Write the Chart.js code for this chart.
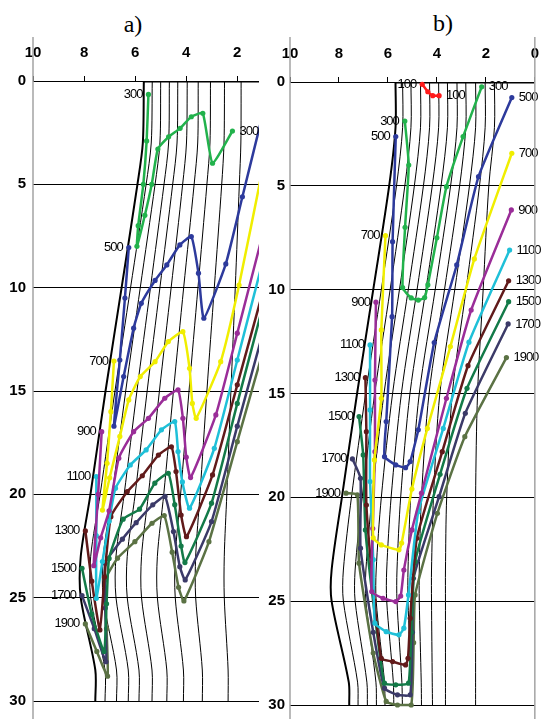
<!DOCTYPE html>
<html>
<head>
<meta charset="utf-8">
<script src="https://cdn.jsdelivr.net/npm/chart.js@4.4.1/dist/chart.umd.min.js"></script>
<style>
body { margin: 0; background: #fff; width: 553px; height: 719px; overflow: hidden; position: relative; }
canvas { position: absolute; top: 0; }
#ca { left: 0; }
#cb { left: 263px; }
.ttl { position: absolute; font: 24px "Liberation Serif", "Times New Roman", serif; transform: translate(-50%, -50%); }
</style>
</head>
<body>
<div class="ttl" style="left:133px;top:24px">a)</div>
<div class="ttl" style="left:443px;top:23px">b)</div>
<canvas id="ca" width="263" height="719"></canvas>
<canvas id="cb" width="290" height="719"></canvas>
<script>
// tick values
const xTicks = [10, 8, 6, 4, 2, 0]
const yTicks = [0, 5, 10, 15, 20, 25, 30]

// mesh lines, panel a (x at each depth in meshYa)
const meshYa = [0, 3, 5, 10, 15, 20, 23, 25, 28.5, 30]
const meshA = [
    [5.66, 5.70, 5.91, 6.53, 7.16, 7.75, 8.13, 8.13, 7.56, 7.56],
    [5.33, 5.37, 5.57, 6.18, 6.79, 7.37, 7.74, 7.74, 7.18, 7.18],
    [5.00, 5.03, 5.22, 5.80, 6.37, 6.90, 7.25, 7.25, 6.73, 6.73],
    [4.66, 4.69, 4.87, 5.40, 5.93, 6.43, 6.75, 6.75, 6.27, 6.27],
    [4.33, 4.36, 4.53, 5.03, 5.53, 6.00, 6.31, 6.31, 5.85, 5.85],
    [3.96, 3.99, 4.14, 4.59, 5.05, 5.48, 5.75, 5.75, 5.34, 5.34],
    [3.53, 3.55, 3.69, 4.10, 4.50, 4.88, 5.13, 5.13, 4.76, 4.76],
    [3.05, 3.07, 3.19, 3.54, 3.89, 4.22, 4.43, 4.43, 4.11, 4.11],
    [2.50, 2.52, 2.61, 2.90, 3.19, 3.46, 3.63, 3.63, 3.37, 3.37],
    [1.85, 1.86, 1.92, 2.08, 2.25, 2.41, 2.51, 2.51, 2.36, 2.36]
]

// mesh lines, panel b
const meshYb = [0, 2.2, 5, 10, 15, 20, 23.5, 25, 28.9, 30]
const meshB = [
    [5.69, 5.69, 5.95, 6.60, 7.26, 7.88, 8.30, 8.30, 7.60, 7.58],
    [5.40, 5.40, 5.65, 6.27, 6.91, 7.49, 7.82, 7.82, 7.24, 7.22],
    [5.06, 5.06, 5.31, 5.91, 6.54, 7.05, 7.34, 7.34, 6.86, 6.84],
    [4.67, 4.67, 4.92, 5.53, 6.16, 6.65, 6.90, 6.90, 6.49, 6.47],
    [4.30, 4.30, 4.55, 5.17, 5.81, 6.27, 6.48, 6.48, 6.14, 6.12],
    [3.93, 3.93, 4.19, 4.81, 5.45, 5.87, 6.05, 6.05, 5.78, 5.76],
    [3.57, 3.57, 3.83, 4.45, 5.10, 5.48, 5.63, 5.63, 5.43, 5.41],
    [3.18, 3.18, 3.44, 4.07, 4.72, 5.07, 5.18, 5.18, 5.05, 5.03],
    [2.82, 2.82, 3.07, 3.69, 4.32, 4.63, 4.72, 4.72, 4.64, 4.63],
    [2.42, 2.42, 2.67, 3.27, 3.88, 4.14, 4.22, 4.22, 4.19, 4.18],
    [2.03, 2.03, 2.26, 2.81, 3.37, 3.60, 3.65, 3.65, 3.65, 3.65],
    [1.65, 1.65, 1.88, 2.11, 2.34, 2.42, 2.42, 2.42, 2.42, 2.42]
]

// curves, panel a  [x, depth]
const a300 = [[5.48, 0.65], [5.55, 2.9], [5.68, 5.0], [5.88, 7.0], [5.93, 8.0], [5.62, 6.5], [5.35, 5.0], [5.11, 3.29], [4.69, 2.7], [4.24, 2.29], [3.8, 1.73], [3.35, 1.56], [2.97, 3.98], [2.19, 2.42]]
const a500 = [[6.25, 8.06], [6.4, 10.5], [6.6, 13.5], [6.83, 16.7], [6.45, 14.3], [6.06, 11.96], [5.76, 10.76], [5.22, 9.65], [4.76, 8.9], [4.25, 7.93], [3.8, 7.53], [3.52, 9.3], [3.31, 11.48], [2.45, 8.85], [1.8, 5.6], [1.0, 1.6]]
const a700 = [[6.83, 13.55], [6.95, 16.0], [7.1, 18.5], [7.28, 20.76], [7.0, 19.2], [6.6, 17.2], [6.25, 15.43], [5.8, 14.3], [5.22, 13.58], [4.7, 12.61], [4.13, 12.13], [3.87, 13.9], [3.76, 15.6], [3.61, 16.32], [2.65, 13.58], [1.93, 9.87], [1.0, 4.2]]
const a900 = [[7.31, 16.97], [7.45, 20.0], [7.62, 23.45], [7.35, 22.1], [7.02, 20.8], [6.64, 18.25], [6.06, 16.97], [5.48, 16.32], [4.84, 15.35], [4.32, 14.95], [4.13, 16.32], [4.0, 18.2], [3.83, 19.19], [2.84, 16.16], [2.0, 12.2], [1.0, 7.4]]
const a1100 = [[7.52, 19.14], [7.52, 22.0], [7.52, 25.03], [7.28, 23.25], [7.02, 21.3], [6.77, 19.7], [6.19, 18.58], [5.57, 17.85], [4.97, 16.88], [4.45, 16.48], [4.32, 17.93], [4.15, 19.4], [3.87, 20.67], [2.9, 17.77], [2.0, 13.5], [1.0, 8.7]]
const a1300 = [[7.95, 21.77], [7.7, 24.2], [7.38, 26.56], [7.2, 24.0], [6.95, 21.08], [6.31, 19.87], [5.72, 19.1], [5.09, 18.1], [4.58, 17.7], [4.4, 18.9], [4.2, 21.0], [3.99, 22.05], [2.97, 19.06], [2.0, 14.7], [1.0, 10.2]]
const a1500 = [[8.08, 23.58], [7.7, 25.8], [7.22, 27.6], [7.12, 25.3], [7.02, 23.1], [6.47, 21.2], [5.83, 20.72], [5.23, 19.46], [4.7, 18.98], [4.45, 20.5], [4.2, 22.5], [4.05, 23.3], [3.01, 20.43], [2.0, 15.6], [1.0, 10.9]]
const a1700 = [[8.08, 24.9], [7.6, 26.5], [7.14, 28.1], [7.17, 25.5], [7.17, 23.33], [6.5, 22.17], [5.96, 21.37], [5.31, 20.51], [4.83, 20.1], [4.5, 21.8], [4.25, 23.5], [4.04, 24.14], [3.01, 21.32], [2.0, 16.7], [1.0, 12.2]]
const a1900 = [[7.95, 26.27], [7.5, 27.6], [7.08, 28.8], [7.12, 26.5], [7.17, 24.14], [6.69, 23.09], [6.01, 22.29], [5.34, 21.4], [4.86, 21.03], [4.55, 22.8], [4.3, 24.5], [4.09, 25.16], [3.11, 22.29], [2.0, 17.45], [1.0, 13.1]]

// curves, panel b
const b100 = [[4.6, 0.11], [4.37, 0.47], [4.17, 0.66], [3.91, 0.66]]
const b300 = [[5.31, 1.88], [5.15, 4.0], [5.3, 7.0], [5.4, 9.9], [5.05, 10.4], [4.76, 10.5], [4.5, 10.38], [4.37, 9.77], [4.0, 7.5], [3.61, 5.04], [2.93, 2.63], [2.17, 0.23]]
const b500 = [[5.68, 2.63], [5.81, 7.69], [5.83, 11.3], [6.07, 16.35], [6.14, 18.04], [5.68, 18.44], [5.28, 18.57], [5.09, 18.28], [4.76, 16.75], [4.11, 12.55], [3.19, 8.81], [2.3, 4.56], [0.94, 0.75]]
const b700 = [[6.1, 7.4], [6.27, 11.94], [6.27, 15.23], [6.55, 18.2], [6.6, 21.95], [6.27, 22.29], [5.55, 22.53], [5.44, 22.2], [5.02, 19.6], [4.39, 16.68], [3.45, 12.74], [2.47, 8.52], [0.94, 3.43]]
const b900 = [[6.49, 10.6], [6.53, 14.35], [6.53, 17.8], [6.62, 21.5], [6.66, 24.54], [6.2, 24.86], [5.68, 25.02], [5.48, 24.75], [5.35, 23.5], [5.02, 21.57], [4.63, 19.8], [3.61, 15.23], [2.6, 10.98], [0.96, 6.16]]
const b1100 = [[6.73, 12.66], [6.73, 15.79], [6.73, 19.24], [6.6, 23.0], [6.53, 26.06], [6.07, 26.47], [5.55, 26.62], [5.35, 26.3], [5.16, 24.7], [4.76, 20.69], [3.74, 16.68], [2.69, 12.53], [1.03, 8.09]]
const b1300 = [[6.92, 14.24], [6.88, 16.84], [6.88, 20.37], [6.55, 25.0], [6.27, 27.75], [5.81, 27.91], [5.28, 28.07], [5.18, 27.75], [5.09, 25.82], [4.82, 21.97], [3.78, 17.8], [2.73, 13.66], [1.07, 9.57]]
const b1500 = [[7.18, 16.11], [7.01, 17.96], [6.92, 21.57], [6.5, 26.0], [6.14, 28.95], [5.68, 29.03], [5.16, 28.95], [5.05, 26.5], [4.89, 23.1], [3.87, 18.89], [2.77, 14.75], [1.07, 10.58]]
const b1700 = [[7.45, 18.15], [7.12, 19.08], [7.12, 22.45], [6.6, 26.5], [6.14, 29.19], [5.61, 29.51], [5.09, 29.51], [5.0, 26.5], [4.96, 23.9], [3.91, 19.97], [2.84, 15.95], [1.09, 11.65]]
const b1900 = [[7.71, 19.8], [7.25, 19.88], [7.18, 23.17], [6.6, 27.5], [6.07, 29.83], [5.61, 30.0], [5.05, 30.0], [4.95, 27.0], [4.89, 24.7], [3.98, 20.77], [2.86, 17.08], [1.16, 13.27]]

const colorOf = {
    "100": "#ff1a1a", "300": "#22b24c", "500": "#2d3a9c", "700": "#f0ee00", "900": "#9a2d98",
    "1100": "#1fc0d8", "1300": "#611a1a", "1500": "#137a48", "1700": "#3b3a68", "1900": "#5b7244"
}

// draws the level names next to first / last point of each curve
const curveLabels = {
    id: "curveLabels",
    afterDatasetsDraw(chart, args, opts) {
        const ctx = chart.ctx
        const right = opts.clipRight ? chart.chartArea.right : chart.width
        ctx.save()
        ctx.beginPath()
        ctx.rect(0, 0, right, chart.height)
        ctx.clip()
        ctx.font = '13px "Liberation Sans Narrow", "Liberation Sans", Arial, sans-serif'
        ctx.letterSpacing = "-1px"
        ctx.fillStyle = "#000"
        ctx.textBaseline = "middle"
        chart.data.datasets.forEach((ds, i) => {
            const pts = chart.getDatasetMeta(i).data
            if (ds.startLabel) {
                ctx.textAlign = "right"
                ctx.fillText(ds.startLabel, pts[0].x - 6, pts[0].y)
            }
            if (ds.endLabel) {
                const p = pts[pts.length - 1]
                ctx.textAlign = "left"
                ctx.fillText(ds.endLabel, p.x + 7, p.y)
            }
        })
        ctx.restore()
    }
}

// grey frame lines that run past the plot area
const edgeLines = {
    id: "edgeLines",
    afterDraw(chart, args, opts) {
        const ctx = chart.ctx
        const xs = chart.scales.x
        ctx.save()
        ctx.strokeStyle = "#a3a3a3"
        ctx.lineWidth = 1.5
        opts.values.forEach(v => {
            const px = xs.getPixelForValue(v)
            ctx.beginPath()
            ctx.moveTo(px, 37)
            ctx.lineTo(px, chart.height)
            ctx.stroke()
        })
        ctx.restore()
    }
}

function meshSet(xs, ys, w) {
    return {
        data: xs.map((x, j) => ({ x: x, y: ys[j] })),
        showLine: true, borderColor: "#000", borderWidth: w,
        pointRadius: 0, tension: 0.3, order: 2, clip: 0
    }
}

function curveSet(name, pts, start, end, clip) {
    return {
        data: pts.map(p => ({ x: p[0], y: p[1] })),
        showLine: true,
        borderColor: colorOf[name], backgroundColor: colorOf[name],
        borderWidth: 2.5, pointRadius: 2.6, pointBorderWidth: 0,
        tension: 0.15, order: 1, clip: clip,
        startLabel: start ? name : null, endLabel: end ? name : null
    }
}

const tickFont = { size: 15, weight: "bold", family: '"Liberation Sans", Arial, sans-serif' }

function panelOptions(xMin, topH, leftW, pad, clipRight, yPad, edges) {
    return {
        responsive: false,
        animation: false,
        layout: { padding: pad },
        plugins: {
            legend: { display: false },
            tooltip: { enabled: false },
            curveLabels: { clipRight: clipRight },
            edgeLines: { values: edges }
        },
        scales: {
            x: {
                type: "linear", position: "top", min: xMin, max: 10, reverse: true,
                afterFit: s => { s.height = topH },
                afterBuildTicks: s => { s.ticks = xTicks.filter(v => v >= xMin).map(v => ({ value: v })) },
                ticks: { padding: 14, color: "#000", font: tickFont },
                grid: { drawOnChartArea: false, drawTicks: true, tickLength: 5, color: "#000" },
                border: { display: false }
            },
            y: {
                type: "linear", min: 0, max: 30, reverse: true,
                afterFit: s => { s.width = leftW },
                afterBuildTicks: s => { s.ticks = yTicks.map(v => ({ value: v })) },
                ticks: { padding: yPad, color: "#000", font: tickFont },
                grid: { color: "#000", lineWidth: 1, drawTicks: false },
                border: { display: false }
            }
        }
    }
}

// panel a
const clipA = { left: 10, top: 10, right: 0, bottom: 10 }
const dsA = meshA.map((xs, i) => meshSet(xs, meshYa, i === 0 ? 2 : 1))
dsA.push(meshSet([meshA[0][0], 0], [0, 0], 3))
dsA.push(curveSet("300", a300, true, true, clipA))
dsA.push(curveSet("500", a500, true, false, clipA))
dsA.push(curveSet("700", a700, true, false, clipA))
dsA.push(curveSet("900", a900, true, false, clipA))
dsA.push(curveSet("1100", a1100, true, false, clipA))
dsA.push(curveSet("1300", a1300, true, false, clipA))
dsA.push(curveSet("1500", a1500, true, false, clipA))
dsA.push(curveSet("1700", a1700, true, false, clipA))
dsA.push(curveSet("1900", a1900, true, false, clipA))

new Chart(document.getElementById("ca"), {
    type: "scatter",
    data: { datasets: dsA },
    options: panelOptions(1.15, 81, 33, { top: 0, left: 0, right: 1, bottom: 18 }, true, 7, [10]),
    plugins: [curveLabels, edgeLines]
})

// panel b
const clipB = { left: 10, top: 10, right: 10, bottom: 10 }
const dsB = meshB.map((xs, i) => meshSet(xs, meshYb, i === 0 ? 2 : 1))
dsB.push(meshSet([meshB[0][0], 0], [0, 0], 3))
dsB.push(curveSet("100", b100, true, true, clipB))
dsB.push(curveSet("300", b300, true, true, clipB))
dsB.push(curveSet("500", b500, true, true, clipB))
dsB.push(curveSet("700", b700, true, true, clipB))
dsB.push(curveSet("900", b900, true, true, clipB))
dsB.push(curveSet("1100", b1100, true, true, clipB))
dsB.push(curveSet("1300", b1300, true, true, clipB))
dsB.push(curveSet("1500", b1500, true, true, clipB))
dsB.push(curveSet("1700", b1700, true, true, clipB))
dsB.push(curveSet("1900", b1900, true, true, clipB))

new Chart(document.getElementById("cb"), {
    type: "scatter",
    data: { datasets: dsB },
    options: panelOptions(0, 82, 27, { top: 0, left: 0, right: 9, bottom: 14 }, false, 5, [10, 0]),
    plugins: [curveLabels, edgeLines]
})
</script>
</body>
</html>
